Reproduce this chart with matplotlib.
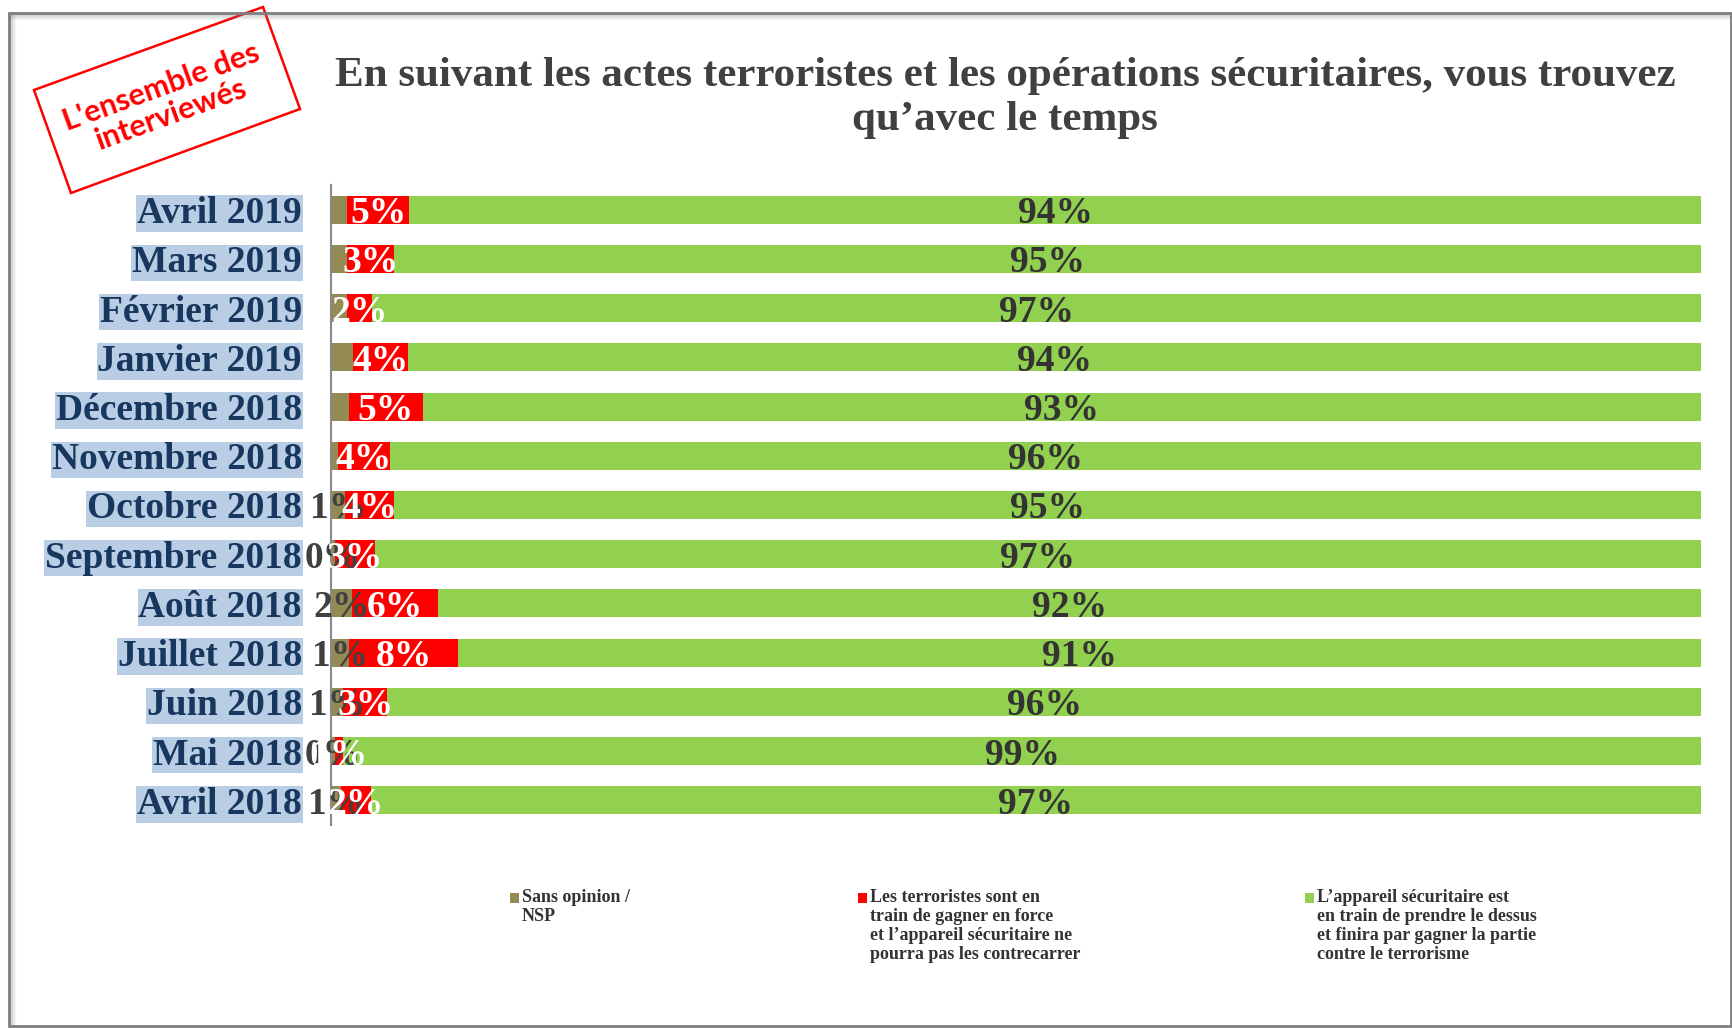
import matplotlib.pyplot as plt
from matplotlib.patches import Rectangle, Polygon
from matplotlib.lines import Line2D

# datos (de arriba hacia abajo)
mois = ['Avril 2019', 'Mars 2019', 'Février 2019', 'Janvier 2019', 'Décembre 2018',
        'Novembre 2018', 'Octobre 2018', 'Septembre 2018', 'Août 2018', 'Juillet 2018',
        'Juin 2018', 'Mai 2018', 'Avril 2018']
sans_opinion = [1.2, 1.2, 1.2, 1.6, 1.3, 0.5, 1.0, 0.3, 1.5, 1.3, 0.9, 0.3, 0.7]
terroristes = [4.5, 3.4, 1.8, 4.0, 5.4, 3.8, 3.6, 2.9, 6.3, 8.0, 3.2, 0.6, 2.2]
securitaire = [94.3, 95.4, 97.0, 94.4, 93.3, 95.7, 95.4, 96.8, 92.2, 90.7, 95.9, 99.1, 97.1]
# l'etiquette "sans opinion" n'apparait que pour les 7 dernieres lignes
montrer_nsp = [False] * 6 + [True] * 7

legendes = ['Sans opinion /\nNSP',
            'Les terroristes sont en\ntrain de gagner en force\net l\u2019appareil sécuritaire ne\npourra pas les contrecarrer',
            'L\u2019appareil sécuritaire est\nen train de prendre le dessus\net finira par gagner la partie\ncontre le terrorisme']
couleurs = ['#948A54', '#FF0000', '#92D050']

W, H = 1732, 1028
def fx(x):
    return x / W
def fy(y):
    return 1 - y / H

serif = 'Liberation Serif'
fig = plt.figure(figsize=(W / 100, H / 100), dpi=100)
ax = fig.add_axes([fx(331), fy(825), fx(1701) - fx(331), fy(185) - fy(825)])

# normaliser a 100 %
series = []
for i in range(len(mois)):
    tot = sans_opinion[i] + terroristes[i] + securitaire[i]
    series.append([sans_opinion[i] * 100 / tot, terroristes[i] * 100 / tot, securitaire[i] * 100 / tot])

pos = list(range(len(mois)))
gauche = [0] * len(mois)
for k in range(3):
    larg = [s[k] for s in series]
    ax.barh(pos, larg, left=gauche, height=0.57, color=couleurs[k], zorder=2)
    gauche = [g + l for g, l in zip(gauche, larg)]

def pct(v):
    return f'{int(v + 0.5)}%'

dy = 0.08  # les chiffres sont un peu plus bas que le centre de la barre
# etiquettes: marron d'abord, puis rouge, puis vert
for i in pos:
    s = series[i]
    if montrer_nsp[i]:
        ax.text(s[0] / 2, i + dy, pct(sans_opinion[i]), ha='center', va='center', fontsize=27,
                fontweight='bold', family=serif, color='#404040', zorder=3, clip_on=False)
for i in pos:
    s = series[i]
    ax.text(s[0] + s[1] / 2, i + dy, pct(terroristes[i]), ha='center', va='center', fontsize=27,
            fontweight='bold', family=serif, color='white', zorder=4)
for i in pos:
    s = series[i]
    ax.text(s[0] + s[1] + s[2] / 2, i + dy, pct(securitaire[i]), ha='center', va='center', fontsize=27,
            fontweight='bold', family=serif, color='#333333', zorder=5)

ax.set_xlim(0, 100)
ax.set_ylim(12.5, -0.5)
ax.set_xticks([])
ax.set_yticks(pos)
ax.set_yticklabels(mois, fontsize=27, fontweight='bold', family=serif, color='#17375E')
ax.tick_params(axis='y', length=0, pad=21)
for lab in ax.get_yticklabels():
    lab.set_bbox(dict(facecolor='#B9CDE5', edgecolor='none', pad=0.5))
for sp in ['top', 'right', 'bottom']:
    ax.spines[sp].set_visible(False)
ax.spines['left'].set_color('#898989')
ax.spines['left'].set_linewidth(1.5)

# titre
fig.text(fx(1005), fy(86), 'En suivant les actes terroristes et les opérations sécuritaires, vous trouvez',
         ha='center', va='baseline', fontsize=31, fontweight='bold', family=serif, color='#404040')
fig.text(fx(1005), fy(130), 'qu\u2019avec le temps',
         ha='center', va='baseline', fontsize=31, fontweight='bold', family=serif, color='#404040')

# legende faite a la main
xs_leg = [510, 858, 1305]
for k in range(3):
    fig.patches.append(Rectangle((fx(xs_leg[k]), fy(903)), fx(9), 10 / H, transform=fig.transFigure,
                                 facecolor=couleurs[k], edgecolor='none'))
    fig.text(fx(xs_leg[k] + 12), fy(889), legendes[k], ha='left', va='top', fontsize=13,
             fontweight='bold', family=serif, color='#333333', linespacing=1.15)

# tampon rouge en haut a gauche
coins = [(34, 90), (263, 7), (300, 109), (71, 193)]
fig.patches.append(Polygon([(fx(x), fy(y)) for x, y in coins], closed=True, transform=fig.transFigure,
                           facecolor='white', edgecolor='#FF0000', lw=1.8))
fig.text(fx(166), fy(101), "L'ensemble des\ninterviewés", ha='center', va='center', rotation=20,
         rotation_mode='anchor', fontsize=22, fontweight='bold', family='Lato', color='#FF0000',
         linespacing=1.05)

# cadre avec ombre
fig.patches.append(Rectangle((fx(9), fy(1026)), fx(1731) - fx(9), fy(13) - fy(1026),
                             transform=fig.transFigure, fill=False, edgecolor='#7F7F7F', lw=2))
for j in range(1, 7):
    a = 0.35 * (1 - j / 7)
    fig.lines.append(Line2D([fx(9 + j), fx(9 + j)], [fy(13), fy(1026)], transform=fig.transFigure,
                            color='gray', alpha=a, lw=1))
    fig.lines.append(Line2D([fx(9), fx(1731)], [fy(13 + j), fy(13 + j)], transform=fig.transFigure,
                            color='gray', alpha=a, lw=1))

plt.savefig('out.png', dpi=100)
